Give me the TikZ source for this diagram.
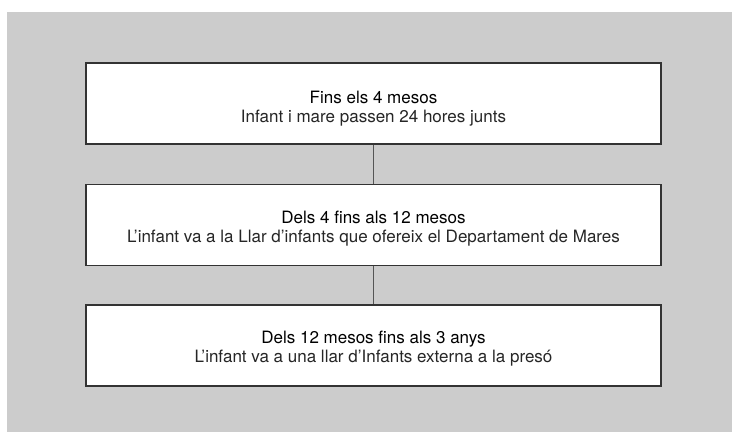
\documentclass[tikz,border=0pt]{standalone}
\usepackage{fontspec}
\setmainfont{TeX Gyre Heros}
\definecolor{bggray}{HTML}{CCCCCC}
\definecolor{boxline}{HTML}{333333}
\definecolor{conline}{HTML}{555555}
\definecolor{subtext}{HTML}{262626}
\begin{document}
\begin{tikzpicture}[x=1pt,y=-1pt,
  stagebox/.style={draw=boxline, line width=1.2pt, fill=white, rectangle, minimum width=575pt, minimum height=81pt, inner sep=0pt},
  headline/.style={anchor=base, font=\fontsize{17}{19}\selectfont, text=black, inner sep=0pt},
  subline/.style={anchor=base, font=\fontsize{17}{19}\selectfont, text=subtext, inner sep=0pt},
  conn/.style={draw=conline, line width=1pt}]
\useasboundingbox (0,0) rectangle (732,432);
\fill[white] (0,0) rectangle (732,432);
\fill[bggray] (7,12) rectangle (732,432);
\node[stagebox] (b1) at (373.5,103.5) {};
\node[stagebox] (b2) at (373.5,225) {};
\node[stagebox] (b3) at (373.5,345.5) {};
\draw[conn] (b1.south) -- (b2.north);
\draw[conn] (b2.south) -- (b3.north);
\node[headline] (t1a) at ([yshift=0.5pt]b1.center) {Fins els 4 mesos};
\node[subline] (t1b) at ([yshift=-19pt]b1.center) {Infant i mare passen 24 hores junts};
\node[headline] (t2a) at ([yshift=2pt]b2.center) {Dels 4 fins als 12 mesos};
\node[subline] (t2b) at ([yshift=-17.5pt]b2.center) {L’infant va a la Llar d’infants que ofereix el Departament de Mares};
\node[headline] (t3a) at ([yshift=2.5pt]b3.center) {Dels 12 mesos fins als 3 anys};
\node[subline] (t3b) at ([yshift=-17pt]b3.center) {L’infant va a una llar d’Infants externa a la presó};
\end{tikzpicture}
\end{document}
